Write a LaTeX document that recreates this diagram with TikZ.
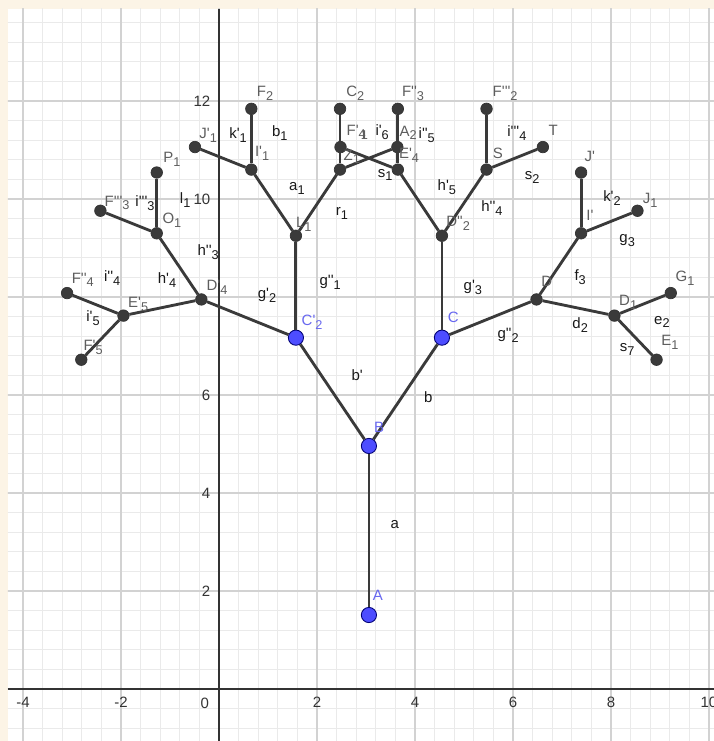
\documentclass[tikz,border=0pt]{standalone}
\usepackage{fontspec}
\newfontfamily\ggb{Liberation Sans}[Ligatures=TeXOff]
\newcommand{\lo}[1]{\raisebox{-.5ex}{\scalebox{.85}{#1}}}
\definecolor{cream}{HTML}{FCF4E6}
\definecolor{minorg}{HTML}{EAEAEA}
\definecolor{majorg}{HTML}{D2D2D2}
\definecolor{segc}{HTML}{3A3A3A}
\definecolor{ptlab}{HTML}{5E5E5E}
\definecolor{bluept}{HTML}{4D4DFF}
\definecolor{bluelab}{HTML}{6868F0}
\tikzset{pt/.style={circle,fill=segc,draw=black!80,line width=.4pt,inner sep=0pt,minimum size=2.35mm},bpt/.style={circle,fill=bluept,draw=blue!45!black,line width=.5pt,inner sep=0pt,minimum size=3.1mm},seg/.style={draw=segc,line width=1.65pt},plab/.style={font=\ggb\fontsize{8.7}{9}\selectfont,text=ptlab,inner sep=0pt},slab/.style={plab,text=black!90},blab/.style={plab,text=bluelab},tick/.style={plab,text=black!80}}

\begin{document}
\begin{tikzpicture}
\useasboundingbox (-4.469,-1.061) rectangle (10.102,14.061);
\fill[cream] (-4.469,-1.061) rectangle (10.102,14.061);
\fill[white] (-4.306,-1.061) rectangle (10.102,13.878);
\begin{scope}
\clip (-4.306,-1.061) rectangle (10.102,13.878);
\draw[minorg,line width=.6pt,step=.4] (-4.8,-1.2) grid (10.4,14.4);
\draw[majorg,line width=1pt,step=2] (-4.8,-1.2) grid (10.4,14.4);
\draw[black!80,line width=1.2pt] (-4.306,0)--(10.102,0) (0,-1.061)--(0,13.878);
\end{scope}
% axis numbers
\foreach \x in {-4,-2,2,4,6,8,10} \node[tick,anchor=north] (tx\x) at (\x,-0.16) {\x};
\foreach \y in {2,4,6,10,12} \node[tick,anchor=east] (ty\y) at (-0.17,\y) {\y};
\node[tick] (t0) at (-0.29,-0.29) {0};
% points of the tree
\node[bpt] (A) at (3.06,1.51) {};
\node[bpt] (B) at (3.06,4.96) {};
\node[bpt] (C) at (4.55,7.17) {};
\node[bpt] (C2p) at (1.57,7.17) {};
\node[pt] (D2pp) at (4.55,9.25) {};
\node[pt] (D) at (6.48,7.95) {};
\node[pt] (L1) at (1.57,9.25) {};
\node[pt] (D4p) at (-0.36,7.95) {};
\node[pt] (S) at (5.46,10.60) {};
\node[pt] (E4p) at (3.65,10.60) {};
\node[pt] (Z1) at (2.47,10.60) {};
\node[pt] (I1p) at (0.66,10.60) {};
\node[pt] (Ip) at (7.39,9.30) {};
\node[pt] (D1) at (8.07,7.62) {};
\node[pt] (O1) at (-1.27,9.30) {};
\node[pt] (E5p) at (-1.95,7.62) {};
\node[pt] (F2ppp) at (5.46,11.84) {};
\node[pt] (T) at (6.61,11.06) {};
\node[pt] (F3pp) at (3.65,11.84) {};
\node[pt] (F4p) at (2.48,11.06) {};
\node[pt] (C2) at (2.47,11.84) {};
\node[pt] (A2) at (3.64,11.06) {};
\node[pt] (F2) at (0.66,11.84) {};
\node[pt] (J1p) at (-0.49,11.06) {};
\node[pt] (Jp) at (7.39,10.54) {};
\node[pt] (J1) at (8.54,9.76) {};
\node[pt] (G1) at (9.22,8.08) {};
\node[pt] (E1) at (8.93,6.72) {};
\node[pt] (P1) at (-1.27,10.54) {};
\node[pt] (F3ppp) at (-2.42,9.76) {};
\node[pt] (F4pp) at (-3.10,8.08) {};
\node[pt] (F5p) at (-2.81,6.72) {};
% segments
\draw[seg](A)--(B);\draw[seg](B)--(C);\draw[seg](B)--(C2p);
\draw[seg](C)--(D2pp);\draw[seg](C)--(D);\draw[seg](C2p)--(L1);\draw[seg](C2p)--(D4p);
\draw[seg](D2pp)--(S);\draw[seg](D2pp)--(E4p);\draw[seg](L1)--(Z1);\draw[seg](L1)--(I1p);
\draw[seg](D)--(Ip);\draw[seg](D)--(D1);\draw[seg](D4p)--(O1);\draw[seg](D4p)--(E5p);
\draw[seg](S)--(F2ppp);\draw[seg](S)--(T);\draw[seg](E4p)--(F3pp);\draw[seg](E4p)--(F4p);
\draw[seg](Z1)--(C2);\draw[seg](Z1)--(A2);\draw[seg](I1p)--(F2);\draw[seg](I1p)--(J1p);
\draw[seg](Ip)--(Jp);\draw[seg](Ip)--(J1);\draw[seg](D1)--(G1);\draw[seg](D1)--(E1);
\draw[seg](O1)--(P1);\draw[seg](O1)--(F3ppp);\draw[seg](E5p)--(F4pp);\draw[seg](E5p)--(F5p);
% point names
\node[blab] (lA) at (3.24,1.92) {A};
\node[blab] (lB) at (3.27,5.35) {B};
\node[blab] (lC) at (4.78,7.59) {C};
\node[blab] (lC2p) at (1.90,7.49) {C'\lo{2}};
\node[plab] (lF2) at (0.94,12.16) {F\lo{2}};
\node[plab] (lJ1p) at (-0.22,11.29) {J'\lo{1}};
\node[plab] (lI1p) at (0.88,10.94) {I'\lo{1}};
\node[plab] (lL1) at (1.73,9.49) {L\lo{1}};
\node[plab] (lC2) at (2.78,12.16) {C\lo{2}};
\node[plab] (lF4p) at (2.80,11.37) {F'\lo{4}};
\node[plab] (lF4x) at (2.97,11.30) {\lo{1}};
\node[plab] (lZ1) at (2.71,10.86) {Z\lo{1}};
\node[plab] (lA2) at (3.86,11.35) {A\lo{2}};
\node[plab] (lE4p) at (3.88,10.90) {E'\lo{4}};
\node[plab] (lF3pp) at (3.96,12.16) {F''\lo{3}};
\node[plab] (lD2pp) at (4.88,9.51) {D''\lo{2}};
\node[plab] (lF2ppp) at (5.84,12.16) {F'''\lo{2}};
\node[plab] (lT) at (6.82,11.41) {T};
\node[plab] (lS) at (5.69,10.94) {S};
\node[plab] (lP1) at (-0.96,10.80) {P\lo{1}};
\node[plab] (lF3ppp) at (-2.08,9.92) {F'''\lo{3}};
\node[plab] (lO1) at (-0.96,9.57) {O\lo{1}};
\node[plab] (lF4pp) at (-2.78,8.35) {F''\lo{4}};
\node[plab] (lD4p) at (-0.04,8.20) {D'\lo{4}};
\node[plab] (lE5p) at (-1.65,7.84) {E'\lo{5}};
\node[plab] (lF5p) at (-2.57,6.98) {F'\lo{5}};
\node[plab] (lJp) at (7.57,10.86) {J'};
\node[plab] (lIp) at (7.57,9.67) {I'};
\node[plab] (lJ1) at (8.80,9.98) {J\lo{1}};
\node[plab] (lD) at (6.69,8.31) {D};
\node[plab] (lG1) at (9.51,8.39) {G\lo{1}};
\node[plab] (lD1) at (8.35,7.90) {D\lo{1}};
\node[plab] (lE1) at (9.20,7.08) {E\lo{1}};
% segment names
\node[slab] (sa) at (3.59,3.35) {a};
\node[slab] (sb) at (4.27,5.96) {b};
\node[slab] (sbp) at (2.82,6.41) {b'};
\node[slab] (sg1pp) at (2.27,8.29) {g''\lo{1}};
\node[slab] (sg2p) at (0.98,8.04) {g'\lo{2}};
\node[slab] (sg3p) at (5.18,8.20) {g'\lo{3}};
\node[slab] (sg2pp) at (5.90,7.22) {g''\lo{2}};
\node[slab] (sa1) at (1.59,10.22) {a\lo{1}};
\node[slab] (sr1) at (2.51,9.71) {r\lo{1}};
\node[slab] (sb1) at (1.24,11.35) {b\lo{1}};
\node[slab] (sk1p) at (0.39,11.31) {k'\lo{1}};
\node[slab] (si6p) at (3.33,11.37) {i'\lo{6}};
\node[slab] (si5pp) at (4.24,11.31) {i''\lo{5}};
\node[slab] (ss1) at (3.39,10.49) {s\lo{1}};
\node[slab] (sh5p) at (4.65,10.24) {h'\lo{5}};
\node[slab] (sh4pp) at (5.57,9.82) {h''\lo{4}};
\node[slab] (si4ppp) at (6.08,11.35) {i'''\lo{4}};
\node[slab] (ss2) at (6.39,10.43) {s\lo{2}};
\node[slab] (sh3pp) at (-0.22,8.92) {h''\lo{3}};
\node[slab] (sh4p) at (-1.06,8.35) {h'\lo{4}};
\node[slab] (sl1) at (-0.69,9.98) {l\lo{1}};
\node[slab] (si3ppp) at (-1.51,9.92) {i'''\lo{3}};
\node[slab] (si4pp) at (-2.18,8.39) {i''\lo{4}};
\node[slab] (si5p) at (-2.57,7.57) {i'\lo{5}};
\node[slab] (sf3) at (7.37,8.41) {f\lo{3}};
\node[slab] (sk2p) at (8.02,10.02) {k'\lo{2}};
\node[slab] (sg3) at (8.33,9.16) {g\lo{3}};
\node[slab] (sd2) at (7.37,7.43) {d\lo{2}};
\node[slab] (se2) at (9.04,7.49) {e\lo{2}};
\node[slab] (ss7) at (8.33,6.92) {s\lo{7}};
\end{tikzpicture}
\end{document}
